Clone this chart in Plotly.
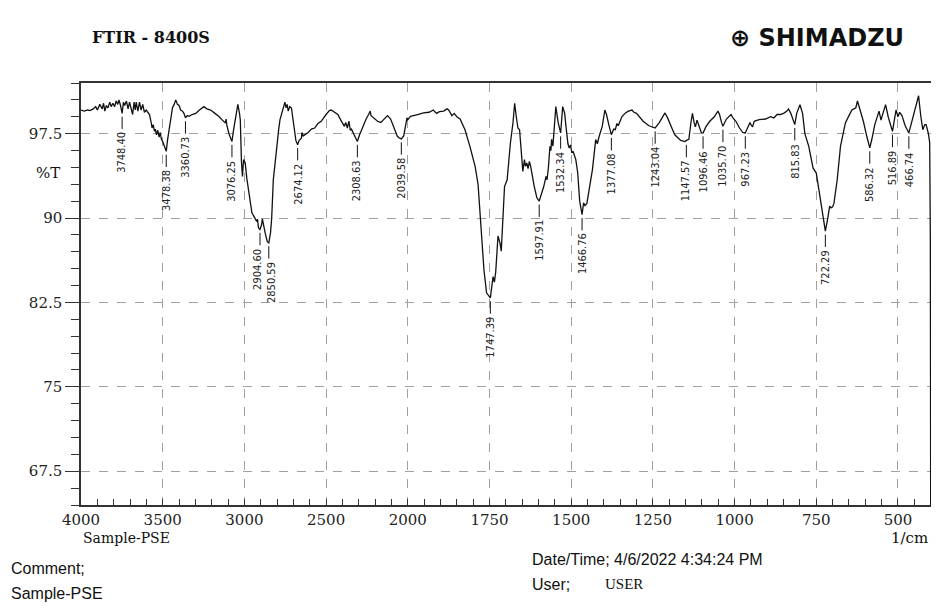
import plotly.graph_objects as go

# ---------------- data ----------------
wavenumber = [4000, 3980, 3960, 3945, 3925, 3910, 3900, 3885, 3870, 3862, 3854, 3845, 3835, 3824, 3815,
              3805, 3794, 3785, 3775, 3768, 3758, 3748.40, 3740, 3733, 3722, 3712, 3703, 3693, 3684, 3675,
              3668, 3662, 3652, 3642, 3632, 3622, 3612, 3601, 3590, 3581, 3572, 3565, 3558, 3550, 3545,
              3538, 3530, 3522, 3515, 3508, 3500, 3490, 3478.38, 3470, 3460, 3450, 3440, 3430, 3420, 3410,
              3400, 3390, 3379, 3370, 3360.73, 3350, 3339, 3320, 3298, 3275, 3248, 3230, 3207, 3180, 3157,
              3135, 3116, 3112, 3108, 3095, 3076.25, 3066, 3055, 3046, 3040, 3030, 3025, 3018, 3012, 3005,
              2995, 2985, 2974, 2962, 2954, 2940, 2934, 2925, 2920, 2914, 2904.60, 2895, 2890, 2880, 2873,
              2860, 2850.59, 2840, 2833, 2823, 2812, 2803, 2790, 2782, 2770, 2762, 2752, 2745, 2738, 2732,
              2722, 2712, 2705, 2695, 2685, 2674.12, 2665, 2651, 2648, 2640, 2610, 2590, 2570, 2550, 2530,
              2500, 2480, 2469, 2450, 2428, 2410, 2395, 2388, 2380, 2370, 2360, 2352, 2345, 2330, 2308.63,
              2295, 2276, 2255, 2240, 2230, 2225, 2210, 2185, 2165, 2145, 2124, 2105, 2085, 2064, 2050,
              2039.58, 2025, 2014, 2010, 2005, 2000, 1992, 1970, 1952, 1935, 1922, 1912, 1903, 1890, 1880,
              1875, 1865, 1858, 1850, 1840, 1825, 1810, 1794, 1785, 1779, 1772, 1767, 1759, 1747.39, 1743,
              1739, 1735, 1731, 1724, 1718, 1714, 1708, 1704, 1696, 1690, 1686, 1678, 1673, 1668, 1663,
              1658, 1652, 1648, 1643, 1640, 1636, 1632, 1628, 1624, 1613, 1605, 1597.91, 1590, 1584, 1577,
              1574, 1570, 1565, 1562, 1560, 1556, 1550, 1547, 1540, 1532.34, 1526, 1520, 1516, 1510, 1506,
              1502, 1498, 1494, 1486, 1480, 1474, 1466.76, 1462, 1458, 1452, 1446, 1435, 1425, 1420, 1415,
              1405, 1397, 1392, 1385, 1377.08, 1370, 1365, 1360, 1356, 1345, 1334, 1325, 1314, 1308, 1300,
              1280, 1262, 1243.04, 1230, 1213, 1205, 1195, 1183, 1165, 1152, 1147.57, 1140, 1133, 1129, 1124,
              1120, 1115, 1110, 1102, 1096.46, 1088, 1076, 1062, 1051, 1046, 1040, 1035.70, 1025, 1011, 1005,
              996, 985, 975, 967.23, 960, 953, 950, 945, 940, 925, 905, 890, 880, 870, 860,
              850, 840, 835, 828, 818, 815.83, 810, 800, 792, 785, 773, 765, 760, 750, 737,
              730, 722.29, 716, 709, 705, 700, 696, 686, 676, 661, 650, 641, 635, 629, 624,
              618, 606, 595, 586.32, 580, 571, 558, 552, 546, 538, 530, 522, 516.89, 510, 506,
              500, 495, 488, 478, 466.74, 455, 445, 437, 430, 424, 418, 414, 407, 403, 401, 400]

transmittance = [99.6, 99.5, 99.6, 99.55, 99.7, 99.9, 99.6, 100.1, 99.7, 100.2, 99.5, 100.0, 99.8, 100.3, 99.9,
                 100.2, 99.9, 100.4, 100.1, 100.5, 100.0, 99.3, 100.3, 100.0, 100.4, 99.7, 100.3, 99.8, 99.2, 100.3,
                 99.6, 100.3, 99.5, 100.3, 99.6, 100.1, 99.4, 99.6, 99.4, 99.2, 98.6, 98.0, 98.3, 97.7, 97.9,
                 97.4, 97.8, 97.2, 97.6, 97.0, 96.8, 96.3, 95.93, 96.97, 98.0, 99.04, 99.8, 100.1, 100.5, 100.1,
                 100.0, 99.6, 99.5, 99.3, 98.9, 99.1, 99.04, 99.2, 99.3, 99.6, 99.9, 99.7, 99.6, 99.3, 99.04,
                 98.7, 98.45, 98.8, 98.3, 97.5, 96.8, 97.85, 98.8, 99.5, 100.1, 99.3, 98.7, 95.0, 93.7, 95.2,
                 94.9, 93.5, 92.24, 91.0, 90.46, 90.1, 89.87, 89.7, 89.9, 89.13, 88.98, 89.4, 89.93, 89.1, 88.69,
                 87.9, 87.8, 88.7, 90.0, 93.4, 95.0, 96.37, 97.9, 98.74, 99.4, 99.78, 100.3, 99.8, 100.1, 99.5,
                 99.9, 99.78, 99.0, 97.85, 96.9, 96.52, 96.9, 97.1, 97.6, 97.3, 97.6, 97.9, 98.0, 98.4, 98.6,
                 99.2, 99.55, 99.6, 99.4, 99.2, 98.7, 98.3, 98.15, 98.5, 98.0, 98.6, 97.8, 97.9, 97.4, 96.8,
                 97.4, 98.15, 98.8, 99.2, 99.5, 99.1, 98.9, 98.6, 98.5, 98.8, 99.1, 98.8, 98.1, 97.26, 97.1,
                 97.03, 97.3, 98.15, 98.4, 98.9, 98.74, 99.04, 99.2, 99.34, 99.4, 99.6, 99.3, 99.45, 99.5, 99.7,
                 99.6, 99.1, 99.3, 99.0, 98.8, 97.85, 96.37, 94.6, 93.0, 90.46, 87.7, 85.4, 83.36, 82.9, 83.9,
                 84.8, 84.3, 85.2, 88.4, 87.8, 87.05, 90.5, 92.8, 93.4, 95.5, 96.67, 98.5, 100.2, 99.0, 98.0,
                 97.85, 96.0, 94.15, 95.2, 94.6, 94.9, 94.4, 95.04, 94.6, 92.8, 91.8, 91.5, 92.2, 92.8, 93.7,
                 93.4, 94.4, 96.37, 96.0, 97.0, 96.4, 99.0, 99.9, 98.5, 97.56, 99.9, 99.3, 98.15, 96.6, 96.23,
                 96.5, 95.8, 95.9, 95.2, 94.0, 91.5, 90.3, 91.35, 91.1, 91.3, 92.24, 94.3, 96.97, 96.6, 97.2,
                 98.15, 99.6, 99.2, 98.3, 97.41, 97.9, 97.85, 98.4, 98.2, 99.0, 99.34, 99.5, 99.6, 99.4, 99.3,
                 98.6, 98.2, 98.0, 98.5, 99.34, 98.9, 98.2, 97.4, 96.9, 96.8, 96.9, 97.0, 98.6, 99.3, 98.5,
                 98.1, 98.7, 98.3, 97.6, 97.56, 98.1, 98.6, 99.0, 99.5, 99.2, 98.5, 98.15, 98.8, 99.2, 98.9,
                 98.6, 98.0, 97.6, 97.56, 98.0, 98.5, 98.3, 98.1, 98.6, 98.74, 98.8, 99.0, 98.9, 99.2, 99.2,
                 99.3, 99.5, 99.7, 99.3, 98.4, 98.3, 99.3, 100.07, 99.3, 97.5, 96.37, 95.0, 94.45, 94.0, 91.64,
                 90.0, 88.83, 89.8, 91.05, 90.9, 91.0, 91.3, 93.4, 96.37, 98.45, 99.1, 99.6, 99.7, 99.8, 100.4,
                 99.8, 98.6, 97.2, 96.23, 97.0, 98.3, 99.5, 98.7, 99.3, 100.07, 99.0, 98.2, 97.7, 98.9, 99.6,
                 99.0, 99.4, 99.1, 98.2, 97.56, 98.8, 100.1, 100.87, 99.0, 97.85, 98.3, 98.3, 97.5, 96.7, 88.0, 64.5]

peak_wavenumber = [3748.40, 3478.38, 3360.73, 3076.25, 2904.60, 2850.59, 2674.12, 2308.63, 2039.58,
                   1747.39, 1597.91, 1532.34, 1466.76, 1377.08, 1243.04, 1147.57, 1096.46, 1035.70,
                   967.23, 815.83, 722.29, 586.32, 516.89, 466.74]
peak_transmittance = [99.3, 95.93, 98.9, 96.8, 88.98, 87.8, 96.52, 96.8, 97.03,
                      82.9, 91.5, 97.56, 90.3, 97.41, 98.0, 96.8, 97.56, 98.15,
                      97.56, 98.3, 88.83, 96.23, 97.7, 97.56]

x_tick_labels = [4000, 3500, 3000, 2500, 2000, 1750, 1500, 1250, 1000, 750, 500]
y_tick_values = [67.5, 75, 82.5, 90, 97.5]


# FTIR axis: 4000-2000 1/cm is drawn at half the scale of 2000-400 1/cm
def to_axis(w):
    return w if w <= 2000 else 2000 + (w - 2000) / 2.0


xu = [to_axis(w) for w in wavenumber]

fig = go.Figure()
fig.add_trace(go.Scatter(x=xu, y=transmittance, mode="lines",
                         line=dict(color="#111111", width=1.3), hoverinfo="skip",
                         showlegend=False))

label_font = dict(family="Liberation Sans Narrow, DejaVu Sans Condensed, Arial Narrow, sans-serif",
                  size=11, color="#222222")
label_nudge = {2904.60: -2, 2850.59: 2}   # pixel offsets for the two crowded labels
for w, t in zip(peak_wavenumber, peak_transmittance):
    xp = to_axis(w)
    fig.add_shape(type="line", xref="x", yref="y", x0=xp, x1=xp, y0=t - 0.3, y1=t - 1.4,
                  line=dict(color="#111111", width=1))
    fig.add_annotation(x=xp, y=t - 1.5, xref="x", yref="y", text=f"{w:.2f}",
                       textangle=-90, showarrow=False, xanchor="center", yanchor="top",
                       xshift=label_nudge.get(w, 0), font=label_font)

serif = "DejaVu Serif, Liberation Serif, serif"
fig.update_xaxes(range=[to_axis(4000), to_axis(399)],
                 tickmode="array", tickvals=[to_axis(v) for v in x_tick_labels],
                 ticktext=[str(v) for v in x_tick_labels],
                 ticks="inside", ticklen=6, tickcolor="#333333",
                 minor=dict(ticks="inside", ticklen=6, dtick=50, tick0=0, tickcolor="#333333",
                            showgrid=False),
                 showgrid=True, gridcolor="#a0a0a0", griddash="dash", gridwidth=1,
                 showline=True, linecolor="#333333", linewidth=1.5, mirror=True,
                 zeroline=False, tickfont=dict(family=serif, size=15, color="#222222"))
fig.update_yaxes(range=[64.5, 102], tickmode="array", tickvals=y_tick_values,
                 ticktext=[f"{v:g}" for v in y_tick_values],
                 ticks="outside", ticklen=14, tickcolor="#333333",
                 minor=dict(ticks="outside", ticklen=8, dtick=1.5, tick0=67.5, tickcolor="#333333",
                            showgrid=False),
                 showgrid=True, gridcolor="#a0a0a0", griddash="dash", gridwidth=1,
                 showline=True, linecolor="#333333", linewidth=1.5, mirror=False,
                 zeroline=False, tickfont=dict(family=serif, size=15, color="#222222"))

# page-pixel placement of the surrounding texts (page has an 8px body margin,
# and the visible area of the graph div ends near x = 932)
PL, PR, PT, PB = 81, 931, 83, 505
sans = "Liberation Sans, Arial, sans-serif"
paper_texts = [
    dict(text="<b>FTIR - 8400S</b>", x=90, y=38, xanchor="left", font=dict(family=serif, size=16)),
    dict(text="<b>⊕ SHIMADZU</b>", x=906, y=38, xanchor="right",
         font=dict(family="DejaVu Sans, sans-serif", size=24)),
    dict(text="%T", x=62, y=173, xanchor="right", font=dict(family=serif, size=15)),
    dict(text="Sample-PSE", x=81, y=538, xanchor="left", font=dict(family=serif, size=14)),
    dict(text="1/cm", x=930, y=538, xanchor="right", font=dict(family=serif, size=15)),
    dict(text="Comment;", x=9, y=568, xanchor="left", font=dict(family=sans, size=16)),
    dict(text="Sample-PSE", x=9, y=593, xanchor="left", font=dict(family=sans, size=16)),
    dict(text="Date/Time; 4/6/2022 4:34:24 PM", x=530, y=559, xanchor="left",
         font=dict(family=sans, size=16)),
    dict(text="User;", x=530, y=584, xanchor="left", font=dict(family=sans, size=16)),
    dict(text="USER", x=603, y=584, xanchor="left", font=dict(family="Liberation Serif, serif", size=15)),
]
for a in paper_texts:
    fig.add_annotation(x=(a["x"] - PL) / (PR - PL), y=(PB - a["y"]) / (PB - PT),
                       xref="paper", yref="paper",
                       text=a["text"], showarrow=False, xanchor=a["xanchor"], yanchor="middle",
                       font=dict(color="#111111", **a["font"]))

W, H = 924, 594
fig.update_layout(width=W, height=H,
                  margin=dict(l=PL - 8, r=W + 8 - PR, t=PT - 8, b=H + 8 - PB),
                  paper_bgcolor="white", plot_bgcolor="white", showlegend=False)

fig.write_html("out.html")
